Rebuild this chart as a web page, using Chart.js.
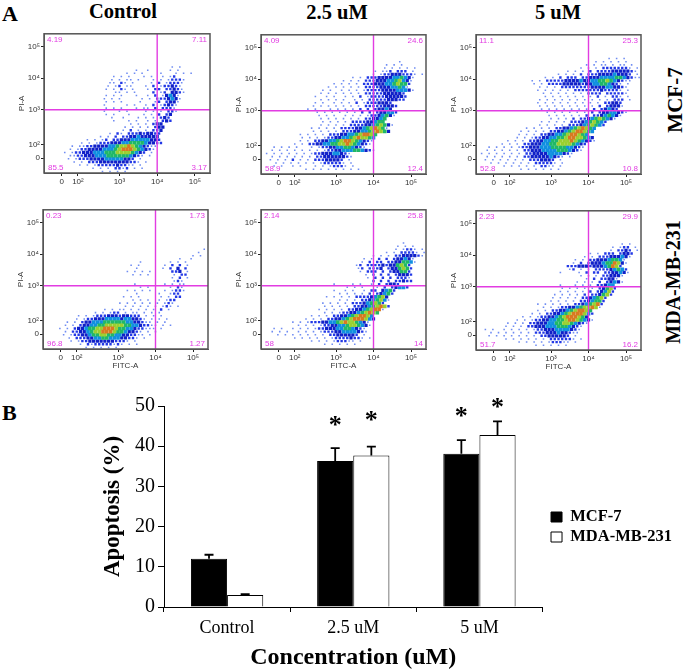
<!DOCTYPE html>
<html>
<head>
<meta charset="utf-8">
<title>Apoptosis</title>
<script src="https://cdn.jsdelivr.net/npm/chart.js@4/dist/chart.umd.min.js"></script>
<style>
  html, body { margin: 0; padding: 0; background: #fff; }
  #page { position: relative; width: 685px; height: 670px; overflow: hidden; }
  #page canvas { position: absolute; }
  .flow { filter: blur(0.45px); }
  .lbl { position: absolute; font-family: "Liberation Serif", serif; font-weight: bold; color: #000; white-space: nowrap; line-height: 1; }
  .rot { transform: translate(-50%, -50%) rotate(-90deg); }
  .ctr { transform: translate(-50%, -50%); }
</style>
</head>
<body>
<div id="page">
  <div class="lbl" style="left:2px;top:3px;font-size:22px">A</div>
  <div class="lbl" style="left:2px;top:402px;font-size:22px">B</div>
  <div class="lbl ctr" style="left:123px;top:11px;font-size:20.5px">Control</div>
  <div class="lbl ctr" style="left:337px;top:12px;font-size:20.5px">2.5 uM</div>
  <div class="lbl ctr" style="left:558px;top:12px;font-size:20.5px">5 uM</div>
  <div class="lbl rot" style="left:675px;top:100px;font-size:21px">MCF-7</div>
  <div class="lbl rot" style="left:673px;top:282px;font-size:20px">MDA-MB-231</div>
</div>

<script>
// ########################
// ###  Bar chart data  ###
// ########################
const categories = ['Control', '2.5 uM', '5 uM'];
const mcf7Values = [12, 36.3, 38.1];
const mdaValues = [3, 37.7, 42.8];
const mcf7Errors = [1, 3.2, 3.4];
const mdaErrors = [0.2, 2.2, 3.4];
const mcf7Stars = [null, 46.3, 48.5];
const mdaStars = [null, 47.6, 50.7];

// ########################
// ###  Flow plot data  ###
// ########################
const tickPositions = [1.47, 1.9, 3, 4, 5];
const tickLabels = ['0', '10²', '10³', '10⁴', '10⁵'];
const gateX = 4;
const gateY = 3;

// quadrant percentages: top left, top right, bottom left, bottom right
const quadControlMcf = ['4.19', '7.11', '85.5', '3.17'];
const quadMidMcf = ['4.09', '24.6', '58.9', '12.4'];
const quadHighMcf = ['11.1', '25.3', '52.8', '10.8'];
const quadControlMda = ['0.23', '1.73', '96.8', '1.27'];
const quadMidMda = ['2.14', '25.8', '58', '14'];
const quadHighMda = ['2.23', '29.9', '51.7', '16.2'];

// density, one row per 0.1 decade from the top.
// "start column:levels", level 1 is sparse blue up to 7 for the red core
const densityControlMcf = ["","","","","","33:1.1","24:1..1.....1.1","21:1.1.1....1...1.1.1",
  "18:1.1.1...1.1..1.12","17:1.1.11.1...1.1.12221","17:11.21.1....1.2.12221","16:1.12.11...1.2.122321",
  "16:1.1.21.1...1.22.22321","16:..11.1.1....2.12.3321","16:1.1.1...1..1.2.13431","15:1.1.1.....1.1.2223431",
  "15:.1.1.1....1...12.2331","15:1.....1.1..1.2.12321","15:.1.1.1...1.11.2.2221","15:1...1.1....1.1.1.221",
  "16:1.1...1...1.1.2.23","17:1..1...1.1.1.232","18:1...1.1..1.1.232","22:1.1.1.233",
  "21:1.1.1.1.233","20:1.2.1.1.223","17:1.21.222323322","14:1.1.2.2233433333",
  "11:1.1.12.2233344444332","9:1.1.122233344555543322","7:1.112233334456676543211","6:1.122333344456777654321",
  "5:1.12233344455566665432.1","5:.11223334445555554321.1","6:1.1222333344444332.1","7:1.1.22233333333221.1",
  "9:1.1.12222232211.1","12:1.1.1.2212.1.1","15:1.1.1.1"];

const densityMidMcf = ["","","","36:1","33:1.1.1","32:1.1.1.1.1","30:1.112.222.1","29:1.1223332221.1",
  "24:1.1.2223333445431","21:1.1.1.2223334456431","19:1.1.1.1.2223334456552","17:1.1.1.1.1.222233344541",
  "16:1.1..1.1.1.12222333344431","15:1.1.1.1.1.1.22222333332","14:1..1.1..1.1.2.12222333332","14:.1.1.1.1..1.1.2222233322",
  "14:1.1..1.1.1.2.12223332","13:1.1.1.1.1.1.1.222223332","12:1.1...1.1.1.1.2.2.23343","14:1.1.1.1.1.1.2.2.233442",
  "14:.1.1.1..1.1.1.12234531","15:1.1.1.1.1.1.223345","16:1.1.1.1.222233455","15:1.1.1.1.222233456531",
  "13:1.1.1.1.2222334567651","13:1.1.1.1.2223344567653","10:1.1.1.1.2223344567765","10:1.1.1.12233445676654",
  "10:1.1.2233445677654321","8:1.1.22334455667654321","3:1.1.1.1...1.1223344554321","2:1.1.1.1.1.1.1.12233444554321",
  "1:1.1.1.1.1.1.12233344321","1:.1.1.1.1.1.1.2233333321","2:1.1.1.2.1.1.22233332.1","2:.1.1.1.1.1.1.1222221.1",
  "3:1.1..1.1...1.1.12221.1","11:1.1.1.1.1.1.1.1"];

const densityHighMcf = ["","","35:1.1.1","31:1.1.1.1.1","29:1.1.11.1.11.1","27:1.1.1.22222221.1","24:1.1.1.2.22223333321.1",
  "21:1.1.1.2.222333343332.1","18:1.1.2.222.2233344445543211","14:1.1.22222333343344556543211","15:1.1.22223333323344554321.1",
  "16:1.1.1.222222223333443321","16:1.1.1.1.1.2222222322221.1","17:1.1.1.1.1.1.2222.222221","17:.1.1.1.1.1.1.1.2.1.221.1",
  "16:1.1.1.1.1.1.1.1.1.1.222.1","15:.1.1.1.1.1.1.1.1.1.22332","16:1.1.1.1.1.1.1.1.2.23331","17:1.1.1.1.1.1.1.2.23432",
  "18:1.1.1.1.1.1.2.23344321","18:.1.1.1.1.1.2.22345431","19:1.1.1.2.2234565431","17:1.1.1.1.2223456542",
  "16:1.1.1.1.2223456542","13:1.1.1.1.22334567654","11:1.1.1.1.223345677654","11:1.1.1.2233445677654",
  "10:1.1.12233445567766543","8:1.1.1.223344556667654321","6:1.1.1.22333445566665432","3:1.1.1.1.122333444555544321",
  "2:1.1.1.1.1.2233344445554321","1:1.1.1.1.1.1.2233334444321","1:.1.1.1.1.1.22333334321.1","2:1.1.1.1.1.1.2223332.1",
  "3:1.1.1.1.1.1.222221.1","7:1.1.1.1.1.2211.1","11:1.1.1.1.1.1"];

const densityControlMda = ["","","","","","","","42:1","41:1","39:1.1","36:1..1","25:1.......1.1.1","23:1.1......1.2.2.1",
  "24:1......1.2.3.2","22:1.1.1.1.....223.1","23:1.1.1......1.22","34:1.2.1","34:121","24:1.......1.1.11","25:1.1.....1.21",
  "22:1.1.1.1...1.1221","24:1.....1..122","21:1.1.1.....1.1.22","23:1.1.1..1.122","20:1.1.1.1.1.1.121","21:1.1.1.1.1.121.1",
  "16:1.1.11.1.1.1.1.2.1","13:1.1.122.1.11.1.1.1","9:1.1.1222333233222.1.1.1","8:1.12233344443443321.1.1.1",
  "6:1.1.2334445555554433211.1.1","5:1.1.233445566666554432211.1.1","4:1.1.2334556677765544322111.1",
  "4:.1.2233456677765543321.1.1","5:1.12233455665544332211.1","6:1.22233445544433221.1","7:1.12233333332221.1",
  "9:1.2122222121.1.1","11:1.1.1.1.1"];

const densityMidMda = ["","","","","","37:1","36:1.1.1","35:1.1221.1","33:1.1.22221.1","29:1.1.1.22333321",
  "27:1.1.2.2.233431","26:1.2.22.22335541","25:12.222232335652","25:12.2223.2335652","26:1.222.2.233552",
  "27:1.2.2.2.23332","28:1.2.2.2.2221","29:2.2.2.22322","19:1....1.1..1.2.2332","22:1.1.1...1.2.23442",
  "19:1..1.1..1.22.3452","20:1.1.1.1.2.23452","17:1.1.1.1.222234563","20:1.1.1.22345641","16:1.1.1.1.222345652",
  "16:1.1.1.1.2233456762","15:1.1.1.1.2233456771","16:1.1.12233456765","13:1.1.1.22334567764","11:1.1.1.2233456777643",
  "8:1.1.12223344567665431","9:1.1.1.12233445665431","3:1.1..1.1.1.12233344554321","2:1.1.1..1.1.1.1222334444321",
  "4:1.1.1.1.1.1.1.22333332.1","8:1.1.1.1.1.122223221.1","13:1.1.1.122211.1","16:1.1.1.1.1"];

const densityHighMda = ["","","","","","38:1.1","36:1.122.1","35:1.2232.1","30:1.1.222.2332","28:1.1.222333431",
  "26:1.1.2233345541","25:1.2.23334557631","24:222333233345762","24:12.1.1.222234542","22:1....1.2.22.2233431",
  "27:1.1.1.223331","29:1.2.22331","26:1.1.1.2.23431","22:1...1.1.1.22344","22:1.1.1.1.1.23562",
  "22:1.1.1.1.2.23462","20:1.1.1.1.2.223562","20:1.1.1.1.2234562","19:1.1.1.1.2234552","16:1.1.1.1.1.22345672",
  "17:1.1.122334566761","16:1.1.22334567765","14:1.1.2233456777642","12:1.1.12233456777653",
  "10:1.1.12233445567765431","8:1.1.1.2233344556654321","7:1.1.1.223334445554321","2:1.1..1.1.1.1.1223334444321",
  "2:.1.1.1.1.1.1.222333433211","3:1.1.1.1.1.1.1.22333332.1","7:1.1.1.1.1.1.2222221.1","11:1.1.1.1.122211.1",
  "15:1.1.1.1.1"];

// Layout of the six plots, frame left / top / width / height
const flowPanels = [
  { density: densityControlMcf, quad: quadControlMcf, frame: [44, 32, 166, 141], fitc: false },
  { density: densityMidMcf, quad: quadMidMcf, frame: [261, 33, 165, 141], fitc: false },
  { density: densityHighMcf, quad: quadHighMcf, frame: [476, 33, 165, 141], fitc: false },
  { density: densityControlMda, quad: quadControlMda, frame: [43, 208, 165, 141], fitc: true },
  { density: densityMidMda, quad: quadMidMda, frame: [261, 208, 165, 141], fitc: true },
  { density: densityHighMda, quad: quadHighMda, frame: [476, 209, 165, 141], fitc: true }
];

const levelColors = ['', '#6f8cf2', '#2238e6', '#1020c8', '#1090e0', '#20b868', '#9ad030', '#d87a20'];
const levelRadius = [0, 1.1, 1.7, 2.3, 2.6, 2.6, 2.6, 2.6];
const gateColor = '#e23ce2';
const page = document.getElementById('page');

Chart.defaults.animation = false;
Chart.defaults.plugins.tooltip.enabled = false;

function densityPoints(rows, level) {
  const points = [];
  rows.forEach((row, r) => {
    if (!row) return;
    const parts = row.split(':');
    const start = parseInt(parts[0]);
    // odd rows sit half a cell over, so the dots do not line up in columns
    const stagger = r % 2 ? 0.05 : 0;
    for (let i = 0; i < parts[1].length; i++) {
      if (parts[1][i] === String(level)) {
        points.push({ x: 1.05 + stagger + 0.1 * (start + i), y: 4.85 - 0.1 * r });
      }
    }
  });
  return points;
}

function addCanvas(left, top, width, height, cls) {
  const canvas = document.createElement('canvas');
  canvas.width = width;
  canvas.height = height;
  canvas.style.left = left + 'px';
  canvas.style.top = top + 'px';
  canvas.style.width = width + 'px';
  canvas.style.height = height + 'px';
  if (cls) canvas.className = cls;
  page.appendChild(canvas);
  return canvas;
}

// frame round the plot and the gate percentages in its corners
const flowDecor = {
  id: 'flowDecor',
  afterDatasetsDraw(chart, args, opts) {
    const { ctx, chartArea: a } = chart;
    ctx.save();
    ctx.strokeStyle = '#555';
    ctx.lineWidth = 1.5;
    ctx.strokeRect(a.left, a.top, a.right - a.left, a.bottom - a.top);
    ctx.fillStyle = gateColor;
    ctx.font = '8px "Liberation Sans"';
    ctx.textBaseline = 'middle';
    ctx.textAlign = 'left';
    ctx.fillText(opts.quad[0], a.left + 3, a.top + 6);
    ctx.fillText(opts.quad[2], a.left + 4, a.bottom - 5);
    ctx.textAlign = 'right';
    ctx.fillText(opts.quad[1], a.right - 3, a.top + 6);
    ctx.fillText(opts.quad[3], a.right - 3, a.bottom - 5);
    ctx.restore();
  }
};

function flowAxis(titleText, titleOn, isX) {
  return {
    type: 'linear',
    min: 1,
    max: 5.4,
    afterBuildTicks(axis) { axis.ticks = tickPositions.map(v => ({ value: v })); },
    afterFit(axis) {
      if (isX) axis.height = 24; else axis.width = 30;
    },
    grid: { drawOnChartArea: false, tickLength: 3, tickColor: '#222' },
    border: { color: '#555' },
    ticks: {
      autoSkip: false,
      maxRotation: 0,
      padding: 1,
      color: '#333',
      font: { family: '"Liberation Sans"', size: 8 },
      callback: (v) => tickLabels[tickPositions.indexOf(v)]
    },
    title: {
      display: titleOn,
      text: titleText,
      color: '#333',
      font: { family: '"Liberation Sans"', size: 8, lineHeight: 1 },
      padding: isX ? { top: 0, bottom: 3 } : { top: 4, bottom: 0 }
    }
  };
}

function generateFlowPlot(panel) {
  const [fx, fy, fw, fh] = panel.frame;
  const canvas = addCanvas(fx - 30, fy - 4, fw + 36, fh + 28, 'flow');

  const datasets = [
    { data: [{ x: gateX, y: 1 }, { x: gateX, y: 5.4 }], showLine: true, borderColor: gateColor, borderWidth: 1.4, pointRadius: 0, order: 0 },
    { data: [{ x: 1, y: gateY }, { x: 5.4, y: gateY }], showLine: true, borderColor: gateColor, borderWidth: 1.4, pointRadius: 0, order: 0 }
  ];
  for (let level = 1; level <= 7; level++) {
    datasets.push({
      data: densityPoints(panel.density, level),
      pointStyle: 'rect',
      pointRadius: levelRadius[level],
      pointBorderWidth: 0,
      backgroundColor: levelColors[level],
      order: 10 - level
    });
  }

  new Chart(canvas, {
    type: 'scatter',
    data: { datasets },
    options: {
      responsive: false,
      layout: { padding: { top: 4, right: 6, left: 0, bottom: 0 } },
      plugins: { legend: { display: false }, flowDecor: { quad: panel.quad } },
      scales: {
        x: flowAxis('FITC-A', panel.fitc, true),
        y: flowAxis('PI-A', true, false)
      }
    },
    plugins: [flowDecor]
  });
}

flowPanels.forEach(generateFlowPlot);

// ########################
// ###    Bar  CHART    ###
// ########################
const serif = '"Liberation Serif"';

const barMarks = {
  id: 'barMarks',
  afterLayout(chart) {
    // legend sits to the right of the plot, lower than the centre of the canvas
    chart.legend.left += 5;
    chart.legend.right += 5;
    chart.legend.top -= 11;
    chart.legend.bottom -= 11;
  },
  afterDatasetsDraw(chart) {
    const { ctx, scales: { y } } = chart;
    const errors = [mcf7Errors, mdaErrors];
    const stars = [mcf7Stars, mdaStars];
    ctx.save();
    ctx.strokeStyle = '#000';
    ctx.fillStyle = '#000';
    ctx.lineWidth = 1.8;
    ctx.font = 'bold 26px ' + serif;
    ctx.textAlign = 'center';
    chart.data.datasets.forEach((ds, d) => {
      chart.getDatasetMeta(d).data.forEach((bar, i) => {
        const top = y.getPixelForValue(ds.data[i] + errors[d][i]);
        ctx.beginPath();
        ctx.moveTo(bar.x, y.getPixelForValue(ds.data[i]));
        ctx.lineTo(bar.x, top);
        ctx.moveTo(bar.x - 4.5, top);
        ctx.lineTo(bar.x + 4.5, top);
        ctx.stroke();
        if (stars[d][i] !== null) {
          const m = ctx.measureText('*');
          const shift = (m.actualBoundingBoxAscent - m.actualBoundingBoxDescent) / 2;
          ctx.fillText('*', bar.x, y.getPixelForValue(stars[d][i]) + shift);
        }
      });
    });
    ctx.restore();
  }
};

new Chart(addCanvas(90, 385, 595, 285), {
  type: 'bar',
  data: {
    labels: categories,
    datasets: [
      { label: 'MCF-7', data: mcf7Values, backgroundColor: '#000', borderColor: '#000', borderWidth: 1 },
      { label: 'MDA-MB-231', data: mdaValues, backgroundColor: '#fff', borderColor: '#000', borderWidth: 1 }
    ]
  },
  options: {
    responsive: false,
    categoryPercentage: 0.573,
    barPercentage: 1,
    layout: { padding: { top: 21, right: 8, left: 0, bottom: 0 } },
    plugins: {
      legend: {
        position: 'right',
        labels: {
          boxWidth: 11,
          boxHeight: 10,
          padding: 3.5,
          color: '#000',
          font: { family: serif, size: 16.5, weight: 'bold' }
        }
      }
    },
    scales: {
      x: {
        afterFit(axis) { axis.height = 63; },
        grid: { drawOnChartArea: false, offset: true, tickLength: 5, tickColor: '#000' },
        border: { color: '#000' },
        ticks: { padding: 5, color: '#000', font: { family: serif, size: 18 } },
        title: {
          display: true,
          text: 'Concentration (uM)',
          color: '#000',
          font: { family: serif, size: 24, weight: 'bold', lineHeight: 1 },
          padding: { top: 0, bottom: 0 }
        }
      },
      y: {
        min: 0,
        max: 50,
        afterFit(axis) { axis.width = 74; },
        grid: { drawOnChartArea: false, tickLength: 6, tickColor: '#000' },
        border: { color: '#000' },
        ticks: { stepSize: 10, padding: 3, color: '#000', font: { family: serif, size: 20 } },
        title: {
          display: true,
          text: 'Apoptosis (%)',
          color: '#000',
          font: { family: serif, size: 23, weight: 'bold', lineHeight: 1 },
          padding: { top: 12, bottom: 0 }
        }
      }
    }
  },
  plugins: [barMarks]
});
</script>
</body>
</html>
